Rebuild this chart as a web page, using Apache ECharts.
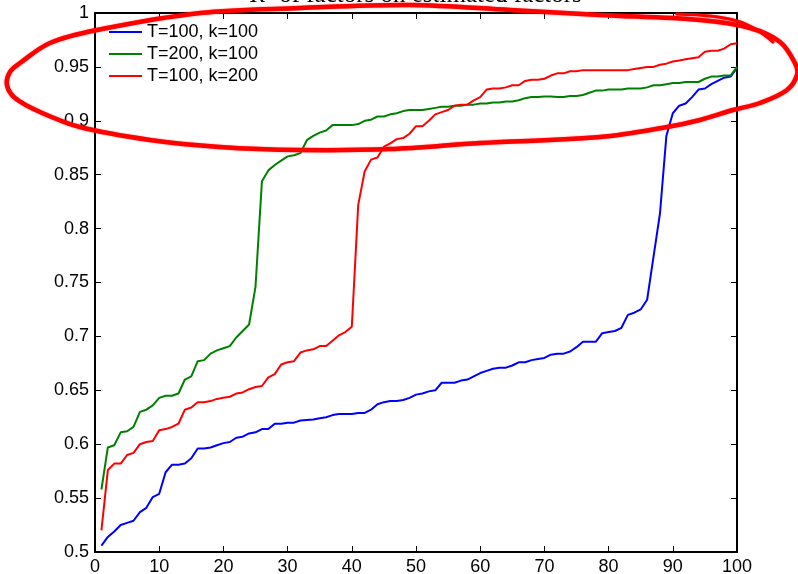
<!DOCTYPE html>
<html>
<head>
<meta charset="utf-8">
<script src="https://cdn.jsdelivr.net/npm/echarts@6/dist/echarts.min.js"></script>
<style>
  html, body { margin: 0; padding: 0; background: #fff; }
  #chart { width: 798px; height: 574px; }
</style>
</head>
<body>
<div id="chart"></div>
<script>
// Sorted R^2 values for 100 factors, one array per simulation setting.
const seriesNames = ['T=100, k=100', 'T=200, k=100', 'T=100, k=200'];

const r2T100k100 = [
  0.506, 0.514, 0.519, 0.525, 0.527, 0.529, 0.537, 0.541, 0.551, 0.554,
  0.574, 0.581, 0.581, 0.582, 0.587, 0.596, 0.596, 0.597, 0.599, 0.601,
  0.602, 0.606, 0.607, 0.610, 0.611, 0.614, 0.614, 0.619, 0.619, 0.620,
  0.620, 0.622, 0.6225, 0.623, 0.624, 0.625, 0.627, 0.628, 0.628, 0.628,
  0.629, 0.629, 0.632, 0.637, 0.639, 0.640, 0.640, 0.641, 0.643, 0.646,
  0.647, 0.649, 0.650, 0.657, 0.657, 0.657, 0.659, 0.660, 0.663, 0.666,
  0.668, 0.670, 0.671, 0.671, 0.673, 0.676, 0.676, 0.678, 0.679, 0.680,
  0.683, 0.684, 0.684, 0.686, 0.690, 0.695, 0.695, 0.695, 0.703, 0.704,
  0.705, 0.708, 0.720, 0.722, 0.725, 0.734, 0.774, 0.814, 0.886, 0.907,
  0.914, 0.916, 0.922, 0.929, 0.930, 0.934, 0.937, 0.940, 0.941, 0.949
];

const r2T200k100 = [
  0.558, 0.597, 0.599, 0.611, 0.612, 0.616, 0.630, 0.632, 0.636, 0.643,
  0.645, 0.645, 0.647, 0.660, 0.663, 0.677, 0.678, 0.684, 0.687, 0.689,
  0.691, 0.699, 0.705, 0.711, 0.746, 0.844, 0.854, 0.859, 0.863, 0.867,
  0.868, 0.870, 0.882, 0.886, 0.889, 0.891, 0.896, 0.896, 0.896, 0.896,
  0.897, 0.900, 0.901, 0.904, 0.904, 0.906, 0.907, 0.909, 0.910, 0.910,
  0.910, 0.911, 0.912, 0.913, 0.913, 0.914, 0.914, 0.915, 0.915, 0.916,
  0.916, 0.917, 0.917, 0.918, 0.918, 0.919, 0.921, 0.922, 0.922, 0.9225,
  0.9225, 0.922, 0.922, 0.923, 0.923, 0.924, 0.926, 0.928, 0.928, 0.929,
  0.929, 0.929, 0.930, 0.930, 0.930, 0.931, 0.933, 0.933, 0.934, 0.935,
  0.935, 0.936, 0.936, 0.936, 0.939, 0.941, 0.941, 0.942, 0.942, 0.950
];

const r2T100k200 = [
  0.520, 0.576, 0.582, 0.582, 0.590, 0.592, 0.600, 0.602, 0.603, 0.613,
  0.614, 0.616, 0.619, 0.632, 0.634, 0.639, 0.639, 0.640, 0.642, 0.643,
  0.644, 0.647, 0.648, 0.651, 0.653, 0.654, 0.662, 0.665, 0.674, 0.676,
  0.677, 0.685, 0.687, 0.688, 0.691, 0.691, 0.696, 0.701, 0.704, 0.709,
  0.822, 0.853, 0.864, 0.866, 0.876, 0.879, 0.883, 0.884, 0.888, 0.895,
  0.895, 0.900, 0.906, 0.908, 0.910, 0.914, 0.915, 0.915, 0.919, 0.922,
  0.929, 0.930, 0.930, 0.931, 0.933, 0.933, 0.937, 0.938, 0.938, 0.939,
  0.942, 0.944, 0.944, 0.946, 0.946, 0.947, 0.947, 0.947, 0.947, 0.947,
  0.947, 0.947, 0.947, 0.948, 0.949, 0.950, 0.950, 0.952, 0.953, 0.955,
  0.956, 0.957, 0.958, 0.959, 0.964, 0.965, 0.965, 0.967, 0.971, 0.972
];

// Axis ranges and tick steps
const xTicks = { min: 0, max: 100, step: 10 };
const yTicks = { min: 0.5, max: 1, step: 0.05 };

// Hand-drawn highlight loop around the upper band, in axis units (closed)
const ringX = [0.31, 16.36, 31.93, 49.07, 64.64, 78.66, 94.24, 102.02, 106.70, 109.03,
               109.35, 107.79, 103.58, 99.38, 94.24, 89.10, 78.66, 59.97, 45.95, 31.93,
               19.47, 8.57, -2.34, -8.57, -12.46, -13.71, -13.24, -11.68, -7.01];
const ringY = [0.9842, 1.0000, 1.0046, 1.0074, 1.0028, 0.9981, 0.9935, 0.9861, 0.9731, 0.9536,
               0.9425, 0.9286, 0.9165, 0.9100, 0.9007, 0.8942, 0.8850, 0.8794, 0.8738, 0.8729,
               0.8757, 0.8822, 0.8942, 0.9082, 0.9212, 0.9332, 0.9453, 0.9536, 0.9722];
// The overlapping end stroke of the loop
const tailX = [90.65, 95.79, 100.0, 103.12, 105.61];
const tailY = [0.9991, 0.9972, 0.9926, 0.9842, 0.9731];

const factorIndex = r2T100k100.map((_, i) => i + 1);
const pairs = (xs, ys) => xs.map((x, i) => [x, ys[i]]);

const chart = echarts.init(document.getElementById('chart'), null, { renderer: 'canvas' });

const labelFont = { fontFamily: 'Liberation Sans, Arial, sans-serif', fontSize: 18, color: '#000' };

function valueAxis(spec, extra) {
  return Object.assign({
    type: 'value',
    min: spec.min,
    max: spec.max,
    interval: spec.step,
    splitLine: { show: false },
    axisLine: { show: true, onZero: false, lineStyle: { color: '#000', width: 2 } },
    axisTick: { show: true, inside: true, length: 6, lineStyle: { color: '#000', width: 1 } }
  }, extra);
}

const lineSeries = (name, values, color) => ({
  name: name,
  type: 'line',
  data: pairs(factorIndex, values),
  symbol: 'none',
  lineStyle: { color: color, width: 2 },
  itemStyle: { color: color },
  z: 3
});

chart.setOption({
  animation: false,
  backgroundColor: '#fff',
  grid: { left: 95, right: 61, top: 13, bottom: 22, containLabel: false, outerBoundsMode: 'none' },
  legend: {
    data: seriesNames,
    orient: 'vertical',
    left: 103,
    top: 18,
    padding: 5,
    itemWidth: 33,
    itemHeight: 14,
    itemGap: 4,
    itemStyle: { opacity: 0 },
    textStyle: labelFont,
    selectedMode: false
  },
  xAxis: [
    valueAxis(xTicks, {
      position: 'bottom',
      axisLabel: Object.assign({ margin: 6 }, labelFont)
    }),
    valueAxis(xTicks, { position: 'top', axisLabel: { show: false } })
  ],
  yAxis: [
    valueAxis(yTicks, {
      position: 'left',
      axisLabel: Object.assign({ margin: 6 }, labelFont)
    }),
    valueAxis(yTicks, { position: 'right', axisLabel: { show: false } })
  ],
  series: [
    lineSeries(seriesNames[0], r2T100k100, '#0000ff'),
    lineSeries(seriesNames[1], r2T200k100, '#008000'),
    lineSeries(seriesNames[2], r2T100k200, '#ff0000')
  ]
});

// Map axis units to pixels through the grid (extended linearly past the axis ends)
const corner0 = chart.convertToPixel({ gridIndex: 0 }, [xTicks.min, yTicks.min]);
const corner1 = chart.convertToPixel({ gridIndex: 0 }, [xTicks.max, yTicks.max]);
const toPixel = ([x, y]) => [
  corner0[0] + (x - xTicks.min) / (xTicks.max - xTicks.min) * (corner1[0] - corner0[0]),
  corner0[1] + (y - yTicks.min) / (yTicks.max - yTicks.min) * (corner1[1] - corner0[1])
];

const ringStroke = { stroke: '#ff0000', fill: null, lineJoin: 'round', lineCap: 'round',
                     shadowBlur: 1.5, shadowColor: 'rgba(255,0,0,0.6)' };

chart.setOption({
  graphic: [
    {
      id: 'title',
      type: 'text',
      x: (corner0[0] + corner1[0]) / 2,
      y: -4.5,
      z: 1,
      style: {
        text: '{i|R}² of factors on estimated factors',
        fill: '#000',
        font: '25px "Liberation Serif", "Times New Roman", serif',
        align: 'center',
        verticalAlign: 'middle',
        rich: {
          i: { fontStyle: 'italic', fontSize: 25, fontFamily: 'Liberation Serif', fill: '#000' }
        }
      }
    },
    {
      id: 'ring',
      type: 'polygon',
      z: 100,
      silent: true,
      shape: { points: pairs(ringX, ringY).map(toPixel), smooth: 0.35 },
      style: Object.assign({ lineWidth: 4.5 }, ringStroke)
    },
    {
      id: 'ring-end',
      type: 'polyline',
      z: 100,
      silent: true,
      shape: { points: pairs(tailX, tailY).map(toPixel), smooth: 0.35 },
      style: Object.assign({ lineWidth: 3 }, ringStroke)
    }
  ]
});
</script>
</body>
</html>
